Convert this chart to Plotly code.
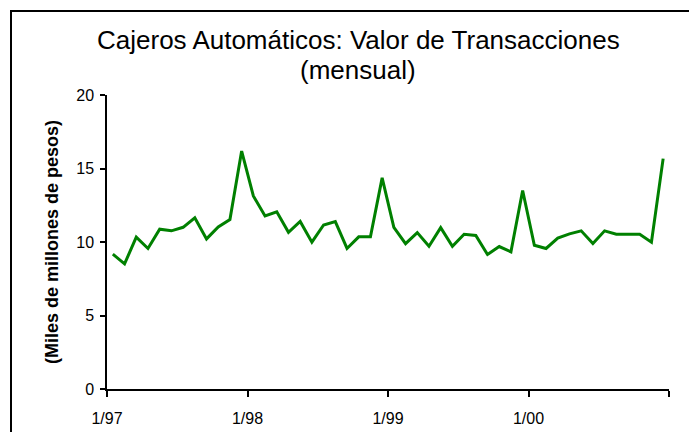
import plotly.graph_objects as go

# Monthly ATM transaction value (miles de millones de pesos), Jan 1997 - Dec 2000
valores = [
    9.17, 8.51, 10.33, 9.56, 10.87, 10.76, 11.00, 11.64, 10.21, 11.03, 11.53, 16.19,   # 1997
    13.13, 11.77, 12.05, 10.66, 11.40, 9.99, 11.16, 11.39, 9.56, 10.35, 10.35, 14.36,  # 1998
    11.00, 9.89, 10.64, 9.71, 10.98, 9.71, 10.53, 10.44, 9.15, 9.69, 9.33, 13.50,      # 1999
    9.78, 9.56, 10.26, 10.55, 10.76, 9.89, 10.76, 10.53, 10.53, 10.53, 9.99, 15.67,    # 2000
]
etiquetas_anio = ["1/97", "1/98", "1/99", "1/00", ""]
y_ticks = [0, 5, 10, 15, 20]

titulo_1 = "Cajeros Automáticos: Valor de Transacciones"
titulo_2 = "(mensual)"
titulo_y = "<b>(Miles de millones de pesos)</b>"

meses = list(range(len(valores)))
tick_pos = [i * 12 - 0.5 for i in range(len(etiquetas_anio))]

OFF = 8  # page body margin
W, H = 697 - 2 * OFF, 440 - 2 * OFF
# plot area in page pixels: x 107..669, y 95..389
L = 107 - OFF
T = 95 - OFF
R = W - (669 - OFF)
B = H - (389 - OFF)
pw, ph = W - L - R, H - T - B

def px_x(p):
    return (p - OFF - L) / pw

def px_y(p):
    return (H - B - (p - OFF)) / ph

fig = go.Figure()
fig.add_trace(go.Scatter(
    x=meses, y=valores, mode="lines",
    line=dict(color="#008000", width=3),
    showlegend=False, hoverinfo="skip",
))

font_fam = "Liberation Sans, Arial, sans-serif"

fig.update_layout(
    width=W, height=H,
    margin=dict(l=L, r=R, t=T, b=B, autoexpand=False),
    paper_bgcolor="white", plot_bgcolor="white",
    font=dict(family=font_fam, color="black"),
    xaxis=dict(
        range=[-0.5, len(valores) - 0.5],
        tickmode="array", tickvals=tick_pos, ticktext=etiquetas_anio,
        ticks="outside", ticklen=6, tickwidth=1.5, tickcolor="black",
        showline=True, linecolor="black", linewidth=1.5,
        showgrid=False, zeroline=False,
        tickfont=dict(size=16, family=font_fam, color="black"),
        ticklabelstandoff=8,
    ),
    yaxis=dict(
        range=[0, 20],
        tickmode="array", tickvals=y_ticks,
        ticks="outside", ticklen=5, tickwidth=1.5, tickcolor="black",
        showline=True, linecolor="black", linewidth=1.5,
        showgrid=False, zeroline=False,
        tickfont=dict(size=16, family=font_fam, color="black"),
        ticklabelstandoff=3,
    ),
    annotations=[
        dict(text=titulo_1, xref="paper", yref="paper",
             x=px_x(358), y=px_y(40), xanchor="center", yanchor="middle",
             showarrow=False, font=dict(size=26, family=font_fam, color="black")),
        dict(text=titulo_2, xref="paper", yref="paper",
             x=px_x(358), y=px_y(70), xanchor="center", yanchor="middle",
             showarrow=False, font=dict(size=26, family=font_fam, color="black")),
        dict(text=titulo_y, textangle=-90, xref="paper", yref="paper",
             x=px_x(52), y=px_y(242), xanchor="center", yanchor="middle",
             showarrow=False, font=dict(size=18, family=font_fam, color="black")),
    ],
    shapes=[
        dict(type="line", xref="paper", yref="paper",
             x0=px_x(10), y0=px_y(11), x1=px_x(697), y1=px_y(11),
             line=dict(color="black", width=2), layer="above"),
        dict(type="line", xref="paper", yref="paper",
             x0=px_x(11), y0=px_y(10), x1=px_x(11), y1=px_y(440),
             line=dict(color="black", width=2), layer="above"),
    ],
)

fig.write_html("out.html")
